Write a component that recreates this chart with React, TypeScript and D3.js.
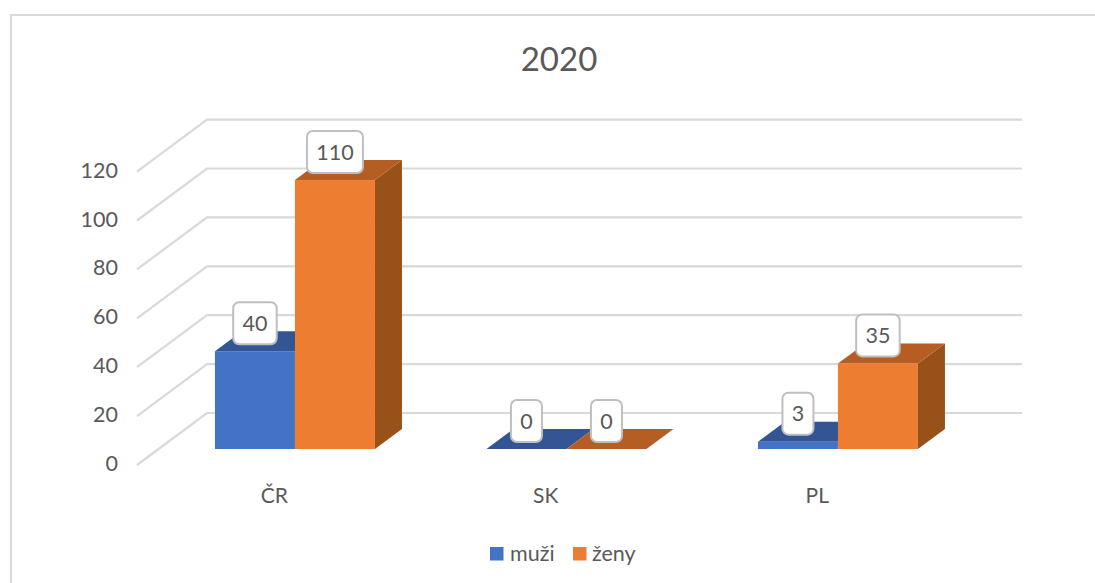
import React from "react";
import * as d3 from "d3";

const title = "2020";
const categories = ["ČR", "SK", "PL"];
const seriesNames = ["muži", "ženy"];
const muzi = [40, 0, 3];
const zeny = [110, 0, 35];
const yTicks = [0, 20, 40, 60, 80, 100, 120];

const seriesValues = [muzi, zeny];
const colors = [
  { front: "#4472c4", top: "#335593", side: "#2f5190" },
  { front: "#ed7d31", top: "#b55d22", side: "#975119" },
];
const textColor = "#595959";
const gridColor = "#d9d9d9";
const font = "Lato, 'Open Sans', sans-serif";

const W = 1095;
const H = 583;
const base = 449;
const y = d3.scaleLinear().domain([0, 120]).range([base, base - 293.4]);
const x0 = d3.scaleBand<string>().domain(categories).range([138.5, 138.5 + 271.5 * 3]).paddingInner(0).paddingOuter(0);
const barW = 80;
const x1 = d3.scaleBand<string>().domain(seriesNames).range([0, barW * 2]);
// the 3D bars sit to the right of their category label
const groupShift = 20.7;
const groupLeft = (c: string) => x0(c)! + (x0.bandwidth() - barW * 2) / 2 + groupShift;

// bar depth
const bdx = 27;
const bdy = -20;
// wall geometry
const wallBackX = 207;
const wallFrontX = 137;
const wallRightX = 1022;
const wallBackDy = -36;
const wallFrontDy = 16;

const poly = (pts: [number, number][]) => d3.line()(pts) + "Z";

function Label({ cx, cy, text }: { cx: number; cy: number; text: string }) {
  const w = 18.5 + 12.5 * text.length;
  const h = 42;
  return (
    <g>
      <rect x={cx - w / 2} y={cy - h / 2} width={w} height={h} rx={6} fill="#fff" stroke="#bfbfbf" strokeWidth={2} />
      <text x={cx} y={cy + 7.5} textAnchor="middle" fontSize={21.5} fill={textColor} fontFamily={font}>{text}</text>
    </g>
  );
}

export default function App() {
  return (
    <svg width={W} height={H} viewBox={`0 0 ${W} ${H}`} style={{ position: "absolute", left: 0, top: 0, background: "#fff" }}>
      <path d={`M11 ${H}V15H${W}`} fill="none" stroke={gridColor} strokeWidth={2} />
      <text x={559} y={71} textAnchor="middle" fontSize={33} fill={textColor} fontFamily={font}>{title}</text>

      {yTicks.map((t) => {
        const yy = y(t);
        return (
          <g key={t}>
            <path
              d={`M${wallFrontX} ${yy + wallFrontDy}L${wallBackX} ${yy + wallBackDy}H${wallRightX}`}
              fill="none"
              stroke={gridColor}
              strokeWidth={2.2}
            />
            <text x={118} y={yy + 22} textAnchor="end" fontSize={21.5} fill={textColor} fontFamily={font}>{t}</text>
          </g>
        );
      })}

      {categories.map((c, i) => {
        const gl = groupLeft(c);
        return (
          <g key={c}>
            {seriesNames.map((s, k) => {
              const v = seriesValues[k][i];
              const l = gl + x1(s)!;
              const r = l + x1.bandwidth();
              const t = y(v);
              const col = colors[k];
              return (
                <g key={s}>
                  <path d={poly([[r, base], [r + bdx, base + bdy], [r + bdx, t + bdy], [r, t]])} fill={col.side} />
                  <path d={poly([[l, t], [l + bdx, t + bdy], [r + bdx, t + bdy], [r, t]])} fill={col.top} />
                  {v > 0 && <rect x={l} y={t} width={r - l} height={base - t} fill={col.front} />}
                </g>
              );
            })}
            <text x={x0(c)! + x0.bandwidth() / 2} y={503} textAnchor="middle" fontSize={21} fill={textColor} fontFamily={font}>{c}</text>
          </g>
        );
      })}

      {categories.map((c, i) =>
        seriesNames.map((s, k) => {
          const v = seriesValues[k][i];
          const l = groupLeft(c) + x1(s)!;
          const cx = l + x1.bandwidth() / 2;
          return <Label key={c + s} cx={cx} cy={y(v) - 28} text={String(v)} />;
        })
      )}

      <g fontFamily={font} fontSize={21.5} fill={textColor}>
        <rect x={490} y={547} width={13.5} height={13.5} fill={colors[0].front} />
        <text x={510} y={561}>{seriesNames[0]}</text>
        <rect x={573} y={547} width={13.5} height={13.5} fill={colors[1].front} />
        <text x={592} y={561}>{seriesNames[1]}</text>
      </g>
    </svg>
  );
}
